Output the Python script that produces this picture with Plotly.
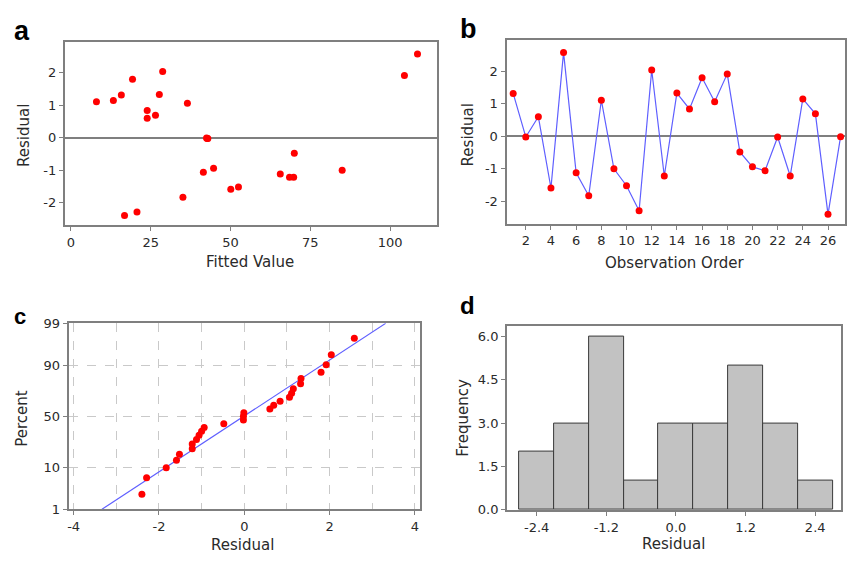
import plotly.graph_objects as go
from statistics import NormalDist, mean, stdev

# Residual diagnostics for a 27-run regression model
observation = list(range(1, 28))
residual = [1.32, -0.02, 0.60, -1.59, 2.58, -1.12, -1.83, 1.11, -1.00, -1.52,
            -2.29, 2.04, -1.22, 1.33, 0.84, 1.80, 1.06, 1.92, -0.48, -0.94,
            -1.06, -0.02, -1.22, 1.15, 0.69, -2.40, -0.01]
fitted = [15.8, 42.7, 23.9, 50.1, 108.6, 65.6, 35.1, 8.0, 85.0, 52.5,
          20.7, 28.75, 68.5, 27.7, 23.9, 19.3, 36.5, 104.5, 70.0, 44.7,
          41.5, 42.9, 69.8, 13.3, 26.5, 16.8, 42.5]

fitted_ticks = [0, 25, 50, 75, 100]
resid_ticks = [-2, -1, 0, 1, 2]
order_ticks = list(range(2, 27, 2))
prob_x_ticks = [-4, -2, 0, 2, 4]
prob_x_minor = [-3, -1, 1, 3]
percent_ticks = [1, 10, 50, 90, 99]
hist_x_ticks = [-2.4, -1.2, 0.0, 1.2, 2.4]
freq_ticks = [0.0, 1.5, 3.0, 4.5, 6.0]
bin_start, bin_end, bin_size = -2.7, 2.7, 0.6

W, H = 847, 563
RED = "#ff0000"
BLUE = "#5f5fff"
FRAME = "#7f7f7f"
TEXT = "#2a2a2a"
FONT = "DejaVu Sans"


def px_x(v):
    return v / W


def px_y(v):
    return 1 - v / H


def fmt(v, nd=0):
    s = f"{v:.{nd}f}"
    return s.replace("\u2212", "-")


# normal probability positions (Benard median ranks)
nd = NormalDist()
n = len(residual)
sorted_res = sorted(residual)
z_pos = [nd.inv_cdf((i + 1 - 0.3) / (n + 0.4)) for i in range(n)]
mu, sd = mean(residual), stdev(residual)
z_lo, z_hi = nd.inv_cdf(0.01), nd.inv_cdf(0.99)

fig = go.Figure()

# a: residuals versus fitted values
fig.add_trace(go.Scatter(x=fitted, y=residual, mode="markers",
                         marker=dict(color=RED, size=7),
                         xaxis="x", yaxis="y"))

# b: residuals versus observation order
fig.add_trace(go.Scatter(x=observation, y=residual, mode="lines+markers",
                         line=dict(color=BLUE, width=1.2),
                         marker=dict(color=RED, size=7),
                         xaxis="x2", yaxis="y2"))

# c: normal probability plot with fitted normal line
fig.add_trace(go.Scatter(x=[mu + sd * z_lo, mu + sd * z_hi], y=[z_lo, z_hi],
                         mode="lines", line=dict(color=BLUE, width=1.2),
                         xaxis="x3", yaxis="y3"))
fig.add_trace(go.Scatter(x=sorted_res, y=z_pos, mode="markers",
                         marker=dict(color=RED, size=7),
                         xaxis="x3", yaxis="y3"))

# d: histogram of residuals
fig.add_trace(go.Histogram(x=residual,
                           xbins=dict(start=bin_start, end=bin_end, size=bin_size),
                           marker=dict(color="#c2c2c2",
                                       line=dict(color="#3a3a3a", width=1)),
                           xaxis="x4", yaxis="y4"))

base = dict(showline=True, mirror=True, linecolor=FRAME, linewidth=2,
            ticks="outside", ticklen=4, tickwidth=1, tickcolor=FRAME,
            showgrid=False, zeroline=False,
            tickfont=dict(family=FONT, size=13, color=TEXT))

grid = dict(showgrid=True, gridcolor="#c9c9c9", griddash="dash", gridwidth=1)

fig.update_layout(
    width=W, height=H,
    margin=dict(l=0, r=0, t=0, b=0),
    paper_bgcolor="white", plot_bgcolor="white",
    showlegend=False, bargap=0,
    xaxis=dict(base, domain=[px_x(64), px_x(437)], range=[-1.9, 114.7],
               tickvals=fitted_ticks, ticktext=[fmt(v) for v in fitted_ticks],
               anchor="y"),
    yaxis=dict(base, domain=[px_y(224), px_y(36)], range=[-2.69, 2.95],
               tickvals=resid_ticks, ticktext=[fmt(v) for v in resid_ticks],
               zeroline=True, zerolinecolor=FRAME, zerolinewidth=1.5,
               anchor="x"),
    xaxis2=dict(base, domain=[px_x(506.7), px_x(846)], range=[0.47, 27.35],
                tickvals=order_ticks, ticktext=[fmt(v) for v in order_ticks],
                anchor="y2"),
    yaxis2=dict(base, domain=[px_y(222.7), px_y(34.3)], range=[-2.69, 2.95],
                tickvals=resid_ticks, ticktext=[fmt(v) for v in resid_ticks],
                zeroline=True, zerolinecolor=FRAME, zerolinewidth=1.5,
                anchor="x2"),
    xaxis3=dict(base, **grid, domain=[px_x(67.7), px_x(420)], range=[-4.12, 4.12],
                tickvals=prob_x_ticks, ticktext=[fmt(v) for v in prob_x_ticks],
                minor=dict(tickvals=prob_x_minor, showgrid=True, gridcolor="#c9c9c9",
                           griddash="dash", gridwidth=1, ticks=""),
                anchor="y3"),
    yaxis3=dict(base, **grid, domain=[px_y(516), px_y(325)], range=[z_lo, z_hi],
                tickvals=[nd.inv_cdf(p / 100) for p in percent_ticks],
                ticktext=[str(p) for p in percent_ticks],
                anchor="x3"),
    xaxis4=dict(base, domain=[px_x(507.3), px_x(842.3)], range=[-2.91, 2.85],
                tickvals=hist_x_ticks, ticktext=[fmt(v, 1) for v in hist_x_ticks],
                anchor="y4"),
    yaxis4=dict(base, domain=[px_y(516.7), px_y(327.3)], range=[0, 6.37],
                tickvals=freq_ticks, ticktext=[fmt(v, 1) for v in freq_ticks],
                anchor="x4"),
)


def label(text, x, y, size=15, angle=0):
    fig.add_annotation(text=text, x=px_x(x), y=px_y(y), xref="paper", yref="paper",
                       showarrow=False, textangle=angle, xanchor="center",
                       yanchor="middle",
                       font=dict(family=FONT, size=size, color=TEXT))


def letter(text, x, y, size):
    fig.add_annotation(text=f"<b>{text}</b>", x=px_x(x), y=px_y(y),
                       xref="paper", yref="paper", showarrow=False,
                       xanchor="left", yanchor="middle",
                       font=dict(family="Liberation Sans", size=size, color="black"))


label("Fitted Value", 250, 262)
label("Residual", 23, 131.5, angle=-90)
label("Observation Order", 676, 263)
label("Residual", 468, 131, angle=-90)
label("Residual", 242, 553)
label("Percent", 21, 422, angle=-90)
label("Residual", 674, 552)
label("Frequency", 463, 422, angle=-90)

letter("a", 11, 25, 27)
letter("b", 458, 23, 27)
letter("c", 11, 318, 22)
letter("d", 458, 307, 24)

fig.write_html("out.html")
